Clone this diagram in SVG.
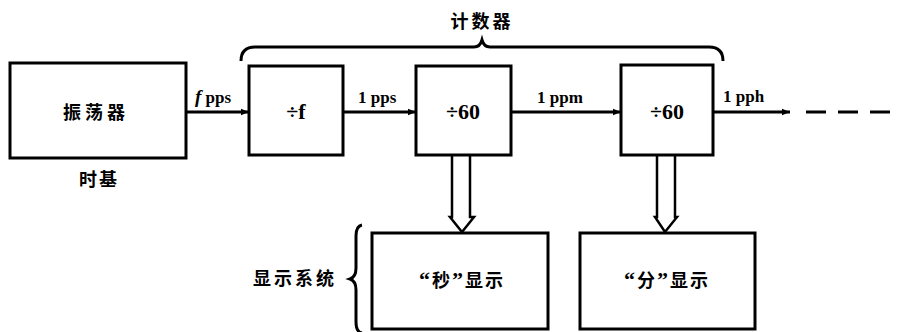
<svg xmlns="http://www.w3.org/2000/svg" width="902" height="332" viewBox="0 0 902 332">
<defs>
<style>
.box{fill:#fff;stroke:#000;stroke-width:3}
.ln{fill:none;stroke:#000;stroke-width:3}
.cj{font-family:"Noto Sans CJK SC","Noto Sans",sans-serif;font-weight:bold;font-size:18px;fill:#000}
.lt{font-family:"Liberation Serif",serif;font-weight:bold;font-size:17px;fill:#000}
.dv{font-family:"Liberation Serif",serif;font-weight:bold;font-size:22px;fill:#000}
.q{font-family:"Liberation Serif",serif;font-size:22px}
.hollow{fill:#fff;stroke:#000;stroke-width:2.5;stroke-linejoin:miter}
</style>
<marker id="ah" viewBox="0 0 10 10" refX="10" refY="5" markerWidth="10" markerHeight="8" markerUnits="userSpaceOnUse" orient="auto">
<path d="M0,1 L10,5 L0,9 Z" fill="#000"/>
</marker>
</defs>
<rect width="902" height="332" fill="#fff"/>
<g id="connectors">
<line class="ln" x1="186" y1="112" x2="249" y2="112" marker-end="url(#ah)"/>
<line class="ln" x1="344" y1="112" x2="416" y2="112" marker-end="url(#ah)"/>
<line class="ln" x1="511" y1="112" x2="621" y2="112" marker-end="url(#ah)"/>
<line class="ln" x1="713" y1="112" x2="790" y2="112" marker-end="url(#ah)"/>
<line class="ln" x1="806" y1="112" x2="902" y2="112" stroke-dasharray="20,12"/>
<path class="hollow" d="M452,155 L452,217 L450,217 L462,232 L474,217 L470,217 L470,155"/>
<path class="hollow" d="M657,155 L657,217 L655,217 L665,232 L677,217 L675,217 L675,155"/>
</g>
<g id="brace-counter">
<path class="ln" d="M241,61 Q241,47 255,47 L474,47 Q480,47 482,40 Q484,47 490,47 L709,47 Q723,47 723,61"/>
<text class="cj" x="482" y="28" text-anchor="middle" letter-spacing="3">计数器</text>
</g>
<g id="oscillator">
<rect class="box" x="10" y="63" width="176" height="95"/>
<text class="cj" x="96" y="119" text-anchor="middle" letter-spacing="4">振荡器</text>
<text class="cj" x="99" y="186" text-anchor="middle" letter-spacing="2">时基</text>
</g>
<g id="label-fpps"><text class="lt" x="195" y="103"><tspan font-style="italic" font-size="19">f</tspan> pps</text></g>
<g id="label-1pps"><text class="lt" x="358" y="103">1 pps</text></g>
<g id="label-1ppm"><text class="lt" x="537" y="103">1 ppm</text></g>
<g id="label-1pph"><text class="lt" x="723" y="102">1 pph</text></g>
<g id="div-f">
<rect class="box" x="249" y="66" width="94" height="89"/>
<text class="dv" x="296" y="119" text-anchor="middle">÷f</text>
</g>
<g id="div-60-sec">
<rect class="box" x="416" y="66" width="95" height="89"/>
<text class="dv" x="463" y="119" text-anchor="middle">÷60</text>
</g>
<g id="div-60-min">
<rect class="box" x="621" y="65" width="92" height="90"/>
<text class="dv" x="667" y="119" text-anchor="middle">÷60</text>
</g>
<g id="display-system">
<path class="ln" stroke-width="2.5" d="M362,225 Q356,226 356,236 L356,268 Q356,277 350,279 Q356,281 356,290 L356,322 Q356,332 362,333"/>
<text class="cj" x="253" y="285" letter-spacing="3">显示系统</text>
</g>
<g id="display-sec">
<rect class="box" x="372" y="233" width="176" height="96"/>
<text class="cj" x="462" y="287" text-anchor="middle" letter-spacing="2"><tspan class="q">“</tspan>秒<tspan class="q">”</tspan>显示</text>
</g>
<g id="display-min">
<rect class="box" x="580" y="233" width="175" height="96"/>
<text class="cj" x="667" y="287" text-anchor="middle" letter-spacing="2"><tspan class="q">“</tspan>分<tspan class="q">”</tspan>显示</text>
</g>
</svg>
